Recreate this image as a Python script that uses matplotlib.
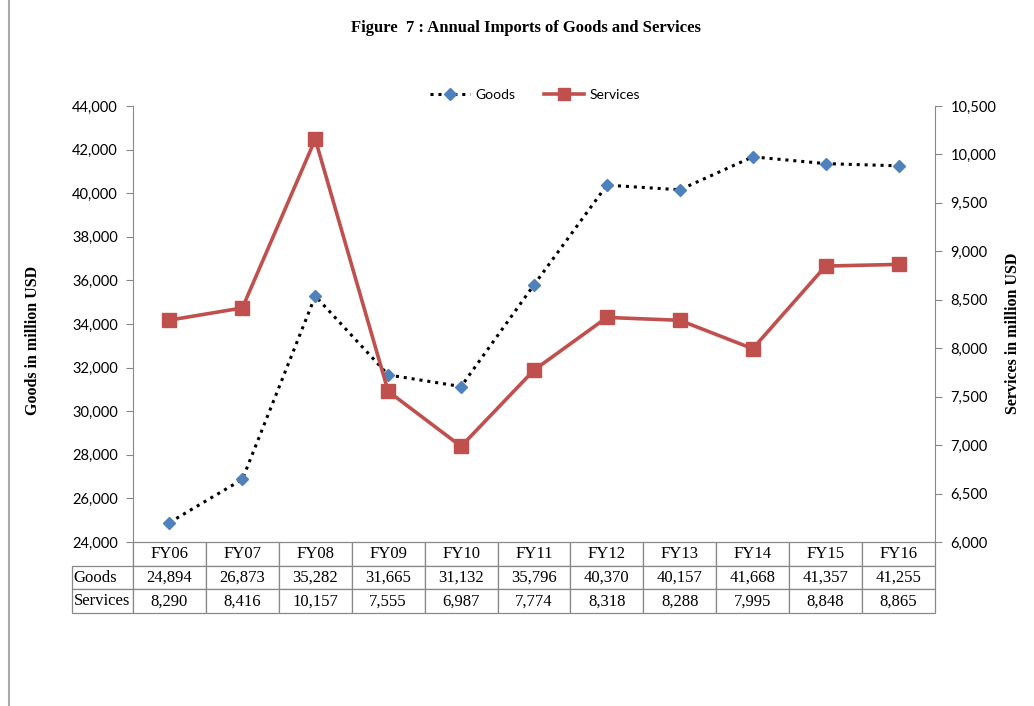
import matplotlib.pyplot as plt
from matplotlib.lines import Line2D

# data
years = ["FY06", "FY07", "FY08", "FY09", "FY10", "FY11", "FY12", "FY13", "FY14", "FY15", "FY16"]
goods = [24894, 26873, 35282, 31665, 31132, 35796, 40370, 40157, 41668, 41357, 41255]
services = [8290, 8416, 10157, 7555, 6987, 7774, 8318, 8288, 7995, 8848, 8865]

W, H = 1034, 706
fig = plt.figure(figsize=(W / 100, H / 100), dpi=100)

# plot area in pixels
x0, x1, y0, y1 = 133, 935, 106, 542
ax = fig.add_axes([x0 / W, 1 - y1 / H, (x1 - x0) / W, (y1 - y0) / H])
ax2 = ax.twinx()

xs = list(range(len(years)))
ax.plot(xs, goods, color="black", linestyle=(0, (1, 1.6)), linewidth=2.2, zorder=2)
ax.plot(xs, goods, linestyle="none", marker="D", markersize=6.5, color="#4F81BD", zorder=3)
ax2.plot(xs, services, color="#C0504D", linewidth=2.6, marker="s", markersize=9.5)

ax.set_xlim(-0.5, len(years) - 0.5)
ax.set_ylim(24000, 44000)
ax.set_yticks(range(24000, 44001, 2000))
ax.set_yticklabels([f"{v:,}" for v in range(24000, 44001, 2000)])
ax2.set_ylim(6000, 10500)
ax2.set_yticks(range(6000, 10501, 500))
ax2.set_yticklabels([f"{v:,}" for v in range(6000, 10501, 500)])
ax.set_xticks([])

for a in (ax, ax2):
    for s in a.spines.values():
        s.set_visible(False)
    a.tick_params(axis="y", direction="out", length=5, color="#888888", labelsize=10.5, pad=6)
    for lab in a.get_yticklabels():
        lab.set_fontfamily("Lato")
ax.spines["left"].set_visible(True)
ax.spines["left"].set_color("#888888")
ax2.spines["right"].set_visible(True)
ax2.spines["right"].set_color("#888888")

# data table under the plot
cell_text = [[""] + years,
             ["Goods"] + [f"{v:,}" for v in goods],
             ["Services"] + [f"{v:,}" for v in services]]
lab_w = 61 / (x1 - x0)
col_w = 1 / len(years)
tbl = ax.table(cellText=cell_text, cellLoc="center",
               colWidths=[lab_w] + [col_w] * len(years),
               bbox=[-lab_w, -(613 - y1) / (y1 - y0), 1 + lab_w, (613 - y1) / (y1 - y0)])
tbl.auto_set_font_size(False)
for (r, c), cell in tbl.get_celld().items():
    cell.set_edgecolor("#888888")
    cell.set_linewidth(0.9)
    cell.get_text().set_fontfamily("Liberation Serif")
    cell.get_text().set_fontsize(12)
    if c == 0:
        cell.get_text().set_ha("left")
        cell._loc = "left"
        cell.PAD = 0.03
    if r == 0 and c == 0:
        cell.visible_edges = "R"

# axis titles
fig.text(33 / W, 1 - 340 / H, "Goods in million USD", rotation=90, ha="center", va="center",
         fontfamily="Liberation Serif", fontweight="bold", fontsize=11.5)
fig.text(1013 / W, 1 - 333 / H, "Services in million USD", rotation=90, ha="center", va="center",
         fontfamily="Liberation Serif", fontweight="bold", fontsize=11.5)
fig.text(526 / W, 1 - 28 / H, "Figure  7 : Annual Imports of Goods and Services", ha="center", va="center",
         fontfamily="Liberation Serif", fontweight="bold", fontsize=12)

# legend
handles = [Line2D([], [], color="black", linestyle=(0, (1, 1.6)), linewidth=2.2, marker="D",
                  markersize=6, markerfacecolor="#4F81BD", markeredgecolor="#4F81BD"),
           Line2D([], [], color="#C0504D", linewidth=2.6, marker="s", markersize=8)]
fig.legend(handles, ["Goods", "Services"], loc="center", bbox_to_anchor=(535 / W, 1 - 95 / H),
           ncol=2, frameon=False, prop={"family": "Lato", "size": 10}, handlelength=2.9,
           columnspacing=2.0, handletextpad=0.4)

# page border on the left
fig.add_artist(Line2D([9 / W, 9 / W], [0, 1], color="#AAAAAA", linewidth=1.5))

fig.savefig("out.png", dpi=100)
